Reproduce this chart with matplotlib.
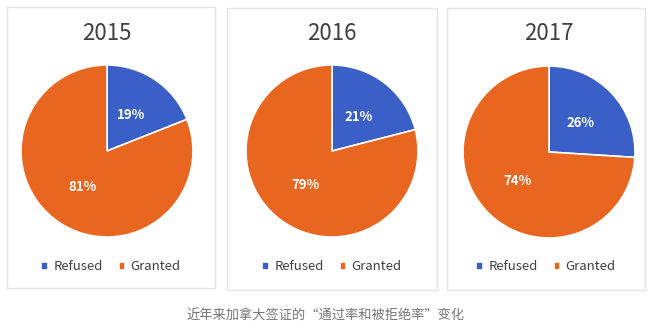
import matplotlib.pyplot as plt
from matplotlib.patches import Rectangle

plt.rcParams['font.family'] = ['Noto Sans CJK SC', 'DejaVu Sans']

years = ['2015', '2016', '2017']
refused = [19, 21, 26]
granted = [81, 79, 74]
labels = ['Refused', 'Granted']
colors = ['#3a5fc6', '#e8661f']

W, H = 652, 331
fig = plt.figure(figsize=(W / 100, H / 100), dpi=100)

# panel boxes in pixels: left, top, right, bottom
panels = [(7, 7, 215, 288), (227, 8, 437, 290), (447, 8, 645, 290)]
centers = [(107, 151), (332, 151), (549, 152)]
R = 86

for i, yr in enumerate(years):
    x0, y0, x1, y1 = panels[i]
    fig.patches.append(Rectangle((x0 / W, 1 - y1 / H), (x1 - x0) / W, (y1 - y0) / H,
                                 transform=fig.transFigure, fill=False,
                                 edgecolor='#e2e2e2', linewidth=1))
    cx, cy = centers[i]
    ax = fig.add_axes([(cx - R) / W, 1 - (cy + R) / H, 2 * R / W, 2 * R / H])
    wedges, _, autotexts = ax.pie([refused[i], granted[i]], colors=colors, startangle=90,
                                  counterclock=False, autopct='%d%%', pctdistance=0.5,
                                  wedgeprops=dict(edgecolor='white', linewidth=1.2))
    for t in autotexts:
        t.set_color('white')
        t.set_fontweight('bold')
        t.set_fontsize(9.5)
    ax.set_xlim(-1, 1)
    ax.set_ylim(-1, 1)
    ax.set_aspect('equal')
    fig.text(cx / W, 1 - 33 / H, yr, ha='center', va='center', fontsize=16, color='#404040')
    # legend
    lx = (x0 + x1) / 2
    fig.legend(wedges, labels, loc='center', bbox_to_anchor=(lx / W, 1 - 267 / H),
               ncol=2, frameon=False, fontsize=9.5, handlelength=0.5, handleheight=0.5,
               handletextpad=0.4, columnspacing=1.2, labelcolor='#404040')

fig.text(0.5, 1 - 316 / H, '近年来加拿大签证的“通过率和被拒绝率”变化',
         ha='center', va='center', fontsize=9.5, color='#777777')

fig.savefig('out.png', dpi=100)
